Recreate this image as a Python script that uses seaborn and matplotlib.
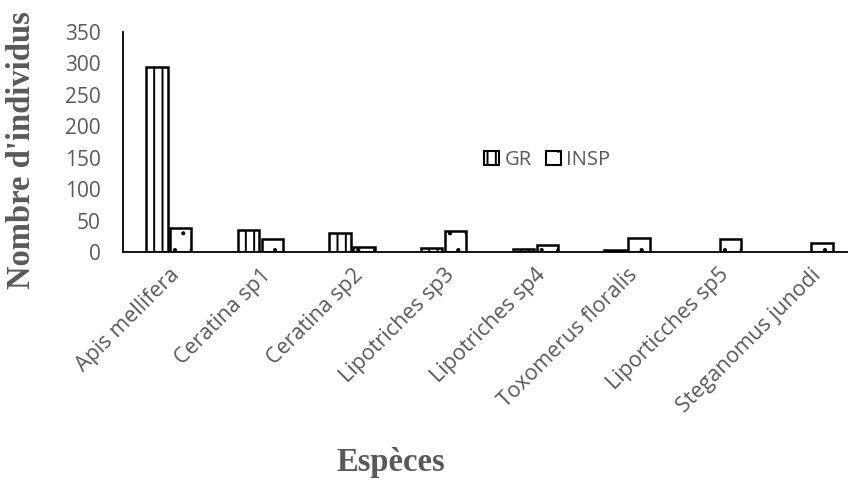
import pandas as pd
import matplotlib.pyplot as plt
import seaborn as sns
from matplotlib.patches import Patch

especes = ['Apis mellifera', 'Ceratina sp1', 'Ceratina sp2', 'Lipotriches sp3',
           'Lipotriches sp4', 'Toxomerus floralis', 'Liporticches sp5',
           'Steganomus junodi']
gr = [294, 35, 31, 7, 4, 3, 0, 0]
insp = [38, 21, 8.5, 34, 11, 23, 21, 15]
groupes = ['GR', 'INSP']
y_ticks = [0, 50, 100, 150, 200, 250, 300, 350]

df = pd.DataFrame({
    'espece': especes * 2,
    'groupe': ['GR'] * len(especes) + ['INSP'] * len(especes),
    'n': gr + insp,
})

sns.set_style('white')
plt.rcParams['hatch.linewidth'] = 1.4
grey = '#595959'
tick_font = 'Open Sans'

fig = plt.figure(figsize=(8.48, 4.82), dpi=100)
ax = fig.add_axes([123 / 848, 230 / 482, 733 / 848, 220 / 482])

sns.barplot(data=df, x='espece', y='n', hue='groupe', order=especes,
            hue_order=groupes, palette=['white', 'white'], width=0.52, gap=0.1,
            edgecolor='black', linewidth=1.8, legend=False, ax=ax)

## hachures : lignes verticales pour GR, points pour INSP
hatches = ['||', '.']
hatch_lw = [1.4, 0.5]
for cont, h, hw in zip(ax.containers, hatches, hatch_lw):
    for bar in cont:
        bar.set_hatch(h)
        if hasattr(bar, 'set_hatch_linewidth'):
            bar.set_hatch_linewidth(hw)
        if bar.get_height() == 0:
            bar.set_visible(False)

ax.set_xlim(-0.5, len(especes) - 0.5)
ax.set_ylim(0, 350)
ax.set_yticks(y_ticks)
ax.set_xlabel('')
ax.set_ylabel('')
for s in ['top', 'right']:
    ax.spines[s].set_visible(False)
for s in ['left', 'bottom']:
    ax.spines[s].set_color('black')
    ax.spines[s].set_linewidth(1.3)
ax.tick_params(axis='both', length=0, colors=grey)
ax.tick_params(axis='y', pad=16, labelsize=15)
ax.tick_params(axis='x', pad=9, labelsize=15.5)
for lab in ax.get_yticklabels():
    lab.set_family(tick_font)
for lab in ax.get_xticklabels():
    lab.set_family(tick_font)
    lab.set_rotation(45)
    lab.set_ha('right')
    lab.set_rotation_mode('anchor')

fig.text(22 / 848, 1 - 150 / 482, "Nombre d'individus", rotation=90,
         ha='center', va='center', family='Liberation Serif',
         fontweight='bold', fontsize=23.5, color=grey)
fig.text(391 / 848, 1 - 462 / 482, 'Espèces', ha='center', va='center',
         family='Liberation Serif', fontweight='bold', fontsize=23.5, color=grey)

handles = [Patch(facecolor='white', edgecolor='black', hatch=h, linewidth=1.5)
           for h in hatches]
leg = fig.legend(handles, groupes, loc='center',
                 bbox_to_anchor=(547 / 848, 1 - 160 / 482), ncol=2,
                 frameon=False, handlelength=0.75, handleheight=0.75,
                 handletextpad=0.25, columnspacing=0.7,
                 prop={'family': tick_font, 'size': 14.5})
for t in leg.get_texts():
    t.set_color(grey)

plt.savefig('out.png', dpi=100)
